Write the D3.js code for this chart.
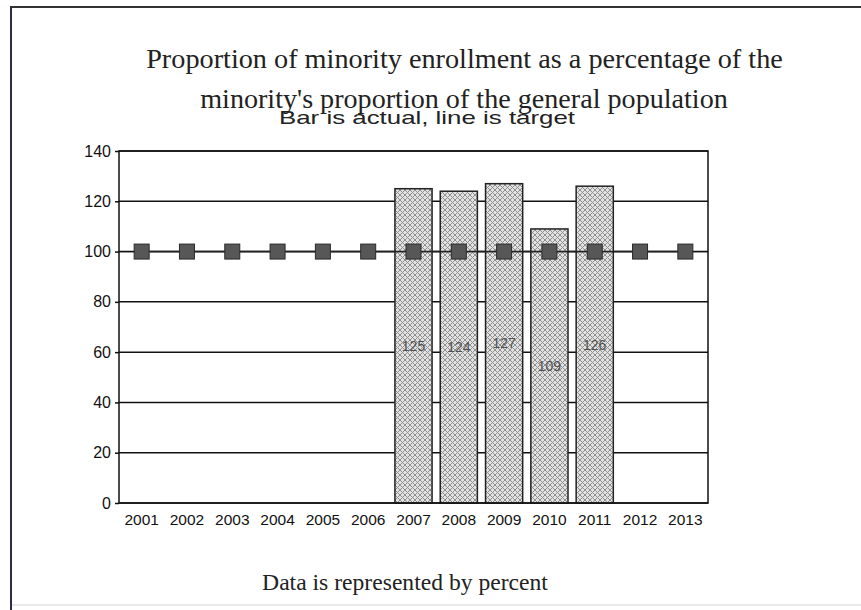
<!DOCTYPE html>
<html>
<head>
<meta charset="utf-8">
<script src="https://cdn.jsdelivr.net/npm/d3@7"></script>
<style>
  html, body { margin: 0; padding: 0; background: #fff; }
  svg { display: block; }
</style>
</head>
<body>
<script>
// Chart data
const years = ["2001","2002","2003","2004","2005","2006","2007","2008","2009","2010","2011","2012","2013"];
const actual = [null, null, null, null, null, null, 125, 124, 127, 109, 126, null, null];
const target = [100, 100, 100, 100, 100, 100, 100, 100, 100, 100, 100, 100, 100];
const yTicks = [0, 20, 40, 60, 80, 100, 120, 140];

const titleLines = [
  "Proportion of minority enrollment as a percentage of the",
  "minority's proportion of the general population"
];
const subtitle = "Bar is actual, line is target";
const footnote = "Data is represented by percent";

const W = 861, H = 610;
const plot = { left: 119, right: 708, top: 151, bottom: 503 };
const sans = "'Liberation Sans', Arial, sans-serif";
const serif = "'Liberation Serif', 'Times New Roman', serif";

const svg = d3.select("body").append("svg").attr("width", W).attr("height", H);

// Crosshatch fill for the bars
const defs = svg.append("defs");
const pat = defs.append("pattern")
  .attr("id", "hatch").attr("patternUnits", "userSpaceOnUse")
  .attr("width", 5).attr("height", 5);
pat.append("rect").attr("width", 5).attr("height", 5).attr("fill", "#e2e2e2");
pat.append("path").attr("d", "M0,0 L5,5 M5,0 L0,5")
  .attr("stroke", "#8f8f8f").attr("stroke-width", 1);

// Page frame
svg.append("line").attr("x1", 10).attr("x2", W).attr("y1", 7).attr("y2", 7)
  .attr("stroke", "#333").attr("stroke-width", 2);
svg.append("line").attr("x1", 11).attr("x2", 11).attr("y1", 6).attr("y2", H)
  .attr("stroke", "#2c2c48").attr("stroke-width", 2);
svg.append("line").attr("x1", 12).attr("x2", W).attr("y1", 605).attr("y2", 605)
  .attr("stroke", "#d4d4d4").attr("stroke-width", 1);

// Scales
const x = d3.scaleBand().domain(years).range([plot.left, plot.right]).paddingInner(0.18).paddingOuter(0.09);
const y = d3.scaleLinear().domain([0, 140]).range([plot.bottom, plot.top]);

// Gridlines
svg.append("g").selectAll("line").data(yTicks).join("line")
  .attr("x1", plot.left).attr("x2", plot.right)
  .attr("y1", d => y(d)).attr("y2", d => y(d))
  .attr("stroke", "#111").attr("stroke-width", 1.5);

// Bars
const barData = years.map((yr, i) => ({ yr, v: actual[i] })).filter(d => d.v != null);
svg.append("g").selectAll("rect").data(barData).join("rect")
  .attr("x", d => x(d.yr)).attr("width", x.bandwidth())
  .attr("y", d => y(d.v)).attr("height", d => y(0) - y(d.v))
  .attr("fill", "url(#hatch)").attr("stroke", "#222").attr("stroke-width", 1.5);

// Gridline at 100 over the bars
svg.append("line").attr("x1", plot.left).attr("x2", plot.right)
  .attr("y1", y(100)).attr("y2", y(100))
  .attr("stroke", "#111").attr("stroke-width", 1.2);

// Bar value labels
svg.append("g").selectAll("text").data(barData).join("text")
  .attr("x", d => x(d.yr) + x.bandwidth() / 2)
  .attr("y", d => y(d.v / 2))
  .attr("dy", "0.35em")
  .attr("text-anchor", "middle")
  .style("font-family", sans)
  .style("font-size", "14px").attr("fill", "#505050")
  .text(d => d.v);

// Target line and markers
const cx = d => x(d) + x.bandwidth() / 2;
svg.append("path")
  .datum(years.map((yr, i) => [cx(yr), y(target[i])]))
  .attr("d", d3.line()).attr("fill", "none")
  .attr("stroke", "#222").attr("stroke-width", 1.5);
svg.append("g").selectAll("rect").data(years.map((yr, i) => ({ yr, v: target[i] }))).join("rect")
  .attr("x", d => cx(d.yr) - 7.5).attr("y", d => y(d.v) - 7.5)
  .attr("width", 15).attr("height", 15)
  .attr("fill", "#575757").attr("stroke", "#2a2a2a").attr("stroke-width", 1);

// Plot frame
svg.append("rect").attr("x", plot.left).attr("y", plot.top)
  .attr("width", plot.right - plot.left).attr("height", plot.bottom - plot.top)
  .attr("fill", "none").attr("stroke", "#111").attr("stroke-width", 1.5);

// Axes
const yAxis = svg.append("g").attr("transform", `translate(${plot.left},0)`)
  .call(d3.axisLeft(y).tickValues(yTicks).tickSize(4).tickPadding(4));
yAxis.select(".domain").remove();
yAxis.selectAll("line").attr("stroke", "#111").attr("stroke-width", 1.5);
yAxis.selectAll("text").style("font-family", sans)
  .style("font-size", "16px").attr("fill", "#111");

const xAxis = svg.append("g").attr("transform", `translate(0,${plot.bottom})`)
  .call(d3.axisBottom(x).tickSize(0).tickPadding(11));
xAxis.select(".domain").remove();
xAxis.selectAll("text").style("font-family", sans)
  .style("font-size", "15.5px").attr("fill", "#111");

// Fit a text element to a given width by adjusting its font size
function fit(sel, width) {
  const w = sel.node().getComputedTextLength();
  const fs = parseFloat(sel.style("font-size"));
  sel.style("font-size", (fs * width / w) + "px");
}

// Title
const t1 = svg.append("text").attr("x", 464.5).attr("y", 68).attr("text-anchor", "middle")
  .style("font-family", serif).style("font-size", "24px")
  .attr("fill", "#222").text(titleLines[0]);
fit(t1, 637);
const t2 = svg.append("text").attr("x", 464).attr("y", 108).attr("text-anchor", "middle")
  .style("font-family", serif).style("font-size", "24px")
  .attr("fill", "#222").text(titleLines[1]);
fit(t2, 528);

// Subtitle
svg.append("text").attr("x", 427).attr("y", 124).attr("text-anchor", "middle")
  .style("font-family", "'Liberation Sans Narrow', 'Arial Narrow', 'Liberation Sans', sans-serif")
  .style("font-size", "19px").attr("fill", "#222")
  .attr("textLength", 296).attr("lengthAdjust", "spacingAndGlyphs")
  .text(subtitle);

// Footnote
const fn = svg.append("text").attr("x", 405).attr("y", 590).attr("text-anchor", "middle")
  .style("font-family", serif).style("font-size", "19px")
  .attr("fill", "#222").text(footnote);
fit(fn, 286);
</script>
</body>
</html>
